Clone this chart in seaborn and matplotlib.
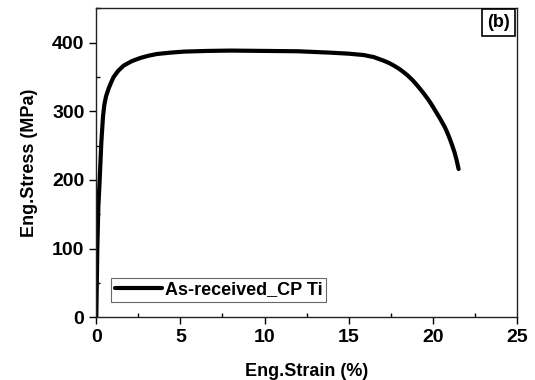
import numpy as np
import pandas as pd
import matplotlib.pyplot as plt
import seaborn as sns
from matplotlib.ticker import MultipleLocator

sns.set_style('white')
plt.rcParams['font.family'] = ['Liberation Sans', 'DejaVu Sans']
plt.rcParams['font.weight'] = 'bold'
plt.rcParams['text.color'] = 'black'
plt.rcParams['axes.labelcolor'] = 'black'
plt.rcParams['xtick.color'] = 'black'
plt.rcParams['ytick.color'] = 'black'

# 读图估计的应力-应变数据
strain = [0.0, 0.03, 0.06, 0.12, 0.2, 0.3, 0.4, 0.48, 0.58, 0.73, 0.88,
          1.03, 1.3, 1.62, 2.1, 2.61, 3.1, 3.6, 4.4, 5.2, 6.6, 8.0, 10.0,
          12.0, 13.9, 15.0, 15.9, 16.5, 17.06, 17.4, 17.7, 18.0, 18.25,
          18.5, 18.8, 19.0, 19.24, 19.45, 19.65, 19.85, 20.03, 20.25, 20.4,
          20.55, 20.72, 20.85, 21.0, 21.15, 21.3, 21.42, 21.54]
stress = [0, 50, 100, 160, 200, 255, 293, 310, 322, 333, 342,
          350, 359, 366.5, 373, 377.7, 381, 383.5, 385.5, 387, 388, 388.5, 388,
          387.5, 385.5, 384, 382, 379, 374, 370.5, 366.5, 362, 357.5,
          352.5, 345.5, 340, 333, 326.5, 320, 313, 306, 297, 291,
          284.5, 277, 270, 261, 251, 240, 229, 216]

label = 'As-received_CP Ti'
df = pd.DataFrame({'strain': strain, 'stress': stress, 'sample': label})

fig, ax = plt.subplots(figsize=(5.35, 3.8), dpi=100)
sns.lineplot(data=df, x='strain', y='stress', hue='sample', palette=['black'],
             lw=3, ax=ax, sort=False, estimator=None)
ax.lines[0].set_solid_capstyle('round')
ax.lines[0].set_solid_joinstyle('round')

ax.set_xlim(0, 25)
ax.set_ylim(0, 450)
ax.set_xticks([0, 5, 10, 15, 20, 25])
ax.set_yticks([0, 100, 200, 300, 400])
ax.xaxis.set_minor_locator(MultipleLocator(2.5))
ax.yaxis.set_minor_locator(MultipleLocator(50))
ax.tick_params(which='major', direction='out', length=5, width=1, labelsize=14,
               bottom=True, left=True)
ax.tick_params(which='minor', direction='in', length=3, width=1,
               bottom=True, left=True)
for s in ax.spines.values():
    s.set_linewidth(1.0)
    s.set_color('#222222')

ax.set_xlabel('Eng.Strain (%)', fontsize=13, fontweight='bold', labelpad=12)
ax.set_ylabel('Eng.Stress (MPa)', fontsize=13, fontweight='bold', labelpad=10)

leg = ax.legend(loc='lower left', bbox_to_anchor=(0.035, 0.05), fontsize=13,
                frameon=True, fancybox=False, edgecolor='#444444',
                handlelength=2.6, handletextpad=0.2, borderpad=0.2,
                borderaxespad=0)
leg.get_frame().set_linewidth(0.8)
for t in leg.get_texts():
    t.set_fontweight('bold')

ax.text(0.984, 0.982, '(b)', transform=ax.transAxes, ha='right', va='top',
        fontsize=13, fontweight='bold',
        bbox=dict(boxstyle='square,pad=0.28', fc='white', ec='black', lw=1.2))

fig.subplots_adjust(left=0.18, right=0.966, top=0.978, bottom=0.165)
fig.savefig('out.png')
